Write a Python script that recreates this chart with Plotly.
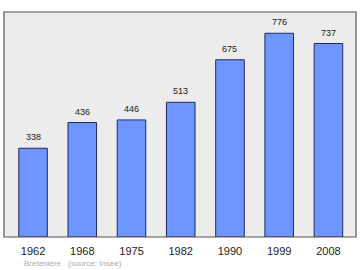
import plotly.graph_objects as go

years = ["1962", "1968", "1975", "1982", "1990", "1999", "2008"]
population = [338, 436, 446, 513, 675, 776, 737]

fig = go.Figure()
fig.add_trace(go.Bar(
    x=years, y=population,
    width=0.58,
    marker=dict(color="#6f96ff", line=dict(color="#1e2a5e", width=1)),
    hoverinfo="skip",
))

for i, v in enumerate(population):
    fig.add_annotation(x=i, y=v, text=str(v), showarrow=False,
                       yanchor="bottom", yshift=4,
                       font=dict(size=9, color="#222", family="Liberation Sans"))

fig.add_annotation(xref="paper", yref="paper", x=(22-4)/352, y=-(263-237)/225,
                   xanchor="left", yanchor="middle", showarrow=False,
                   text="Bretenière", font=dict(size=8, color="#aaaaaa", family="Liberation Sans"))
fig.add_annotation(xref="paper", yref="paper", x=(66-4)/352, y=-(263-237)/225,
                   xanchor="left", yanchor="middle", showarrow=False,
                   text="(source: Insee)", font=dict(size=8, color="#aaaaaa", family="Liberation Sans"))

fig.add_shape(type="rect", xref="paper", yref="paper", x0=0, x1=1, y0=0, y1=1,
              line=dict(color="#555555", width=1.2), layer="above")

fig.update_layout(
    width=360, height=270,
    margin=dict(l=4, r=4, t=12, b=33),
    paper_bgcolor="white", plot_bgcolor="#ececec",
    showlegend=False,
    font=dict(family="Liberation Sans", color="#222"),
    xaxis=dict(type="category", range=[-0.59, 6.56], showgrid=False, zeroline=False,
               showline=False, ticks="", tickfont=dict(size=11, color="#222"),
               ticklabelstandoff=6, fixedrange=True),
    yaxis=dict(range=[0, 857], showgrid=False, zeroline=False, showline=False,
               showticklabels=False, ticks="", fixedrange=True),
)

fig.write_html("out.html")
